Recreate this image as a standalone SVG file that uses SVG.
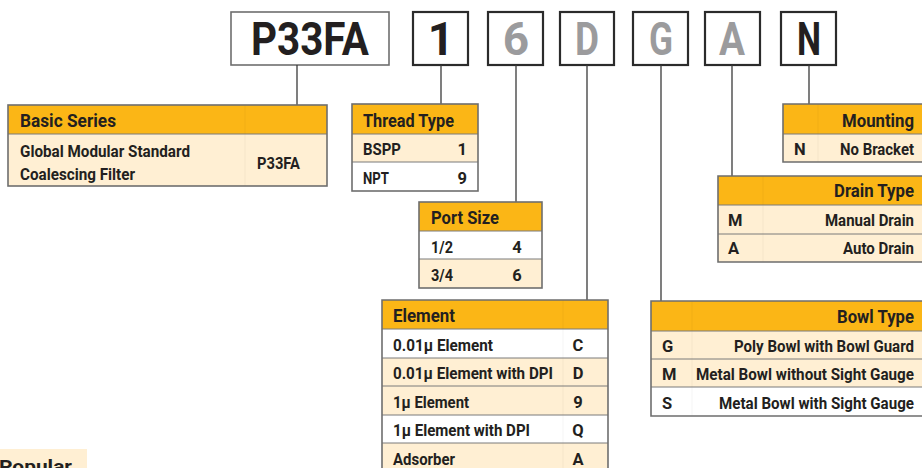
<svg xmlns="http://www.w3.org/2000/svg" width="922" height="468" viewBox="0 0 922 468">
<style>
text{font-family:Roboto,"Liberation Sans",sans-serif;font-weight:bold;fill:#231f20}
.code{font-size:46px;text-anchor:middle}
.grey{fill:#9b9b9d}
.cbox{fill:#fff;stroke:#2b2b2b;stroke-width:2.2}
.pbox{fill:#fff;stroke:#6e6e6e;stroke-width:1.6}
.hd{fill:#fbb616}
.cr{fill:#ffefd3}
.wh{fill:#fff}
.frame{fill:none;stroke:#6e6e6e;stroke-width:1.6}
.sep{stroke:#7a7a7a;stroke-width:1}
.div{stroke:#000;stroke-opacity:0.04;stroke-width:1}
.h{font-size:17.5px}
.r{font-size:16.5px}
.e{text-anchor:end}
.m{text-anchor:middle}
.conn line{stroke:#3a3a3a;stroke-width:1.3}
</style>

<g id="codes">
<g id="code-P33FA"><rect class="pbox" x="231" y="12" width="158" height="53"/><text class="code" x="310" y="55" textLength="118" lengthAdjust="spacingAndGlyphs">P33FA</text></g>
<g id="code-1"><rect class="cbox" x="413" y="12" width="55" height="53"/><text class="code" x="441" y="55">1</text></g>
<g id="code-6"><rect class="cbox" x="488" y="12" width="55" height="53"/><text class="code grey" x="516" y="55">6</text></g>
<g id="code-D"><rect class="cbox" x="560" y="12" width="54" height="53"/><text class="code grey" x="587" y="55" textLength="24" lengthAdjust="spacingAndGlyphs">D</text></g>
<g id="code-G"><rect class="cbox" x="633" y="12" width="55" height="53"/><text class="code grey" x="661" y="55" textLength="24" lengthAdjust="spacingAndGlyphs">G</text></g>
<g id="code-A"><rect class="cbox" x="705" y="12" width="55" height="53"/><text class="code grey" x="732" y="55" textLength="26" lengthAdjust="spacingAndGlyphs">A</text></g>
<g id="code-N"><rect class="cbox" x="781" y="12" width="55" height="53"/><text class="code" x="809" y="55" textLength="24" lengthAdjust="spacingAndGlyphs">N</text></g>
</g>

<g id="connectors" class="conn">
<line x1="297" y1="65" x2="297" y2="105"/>
<line x1="441" y1="65" x2="441" y2="104"/>
<line x1="516" y1="65" x2="516" y2="202"/>
<line x1="587" y1="65" x2="587" y2="300"/>
<line x1="661" y1="65" x2="661" y2="301"/>
<line x1="732" y1="65" x2="732" y2="176"/>
<line x1="809" y1="65" x2="809" y2="104"/>
</g>

<g id="basic-series">
<rect class="hd" x="8" y="105" width="319" height="29"/>
<rect class="cr" x="8" y="134" width="319" height="52"/>
<line class="div" x1="245" y1="105" x2="245" y2="186"/>
<line class="sep" x1="8" y1="134" x2="327" y2="134"/>
<rect class="frame" x="8" y="105" width="319" height="81"/>
<text class="h" x="20" y="127" textLength="96" lengthAdjust="spacingAndGlyphs">Basic Series</text>
<text class="r" x="20" y="157" textLength="170" lengthAdjust="spacingAndGlyphs">Global Modular Standard</text>
<text class="r" x="20" y="180" textLength="115" lengthAdjust="spacingAndGlyphs">Coalescing Filter</text>
<text class="r" x="257" y="169" textLength="43" lengthAdjust="spacingAndGlyphs">P33FA</text>
</g>

<g id="thread-type">
<rect class="hd" x="352" y="104" width="126" height="30"/>
<rect class="cr" x="352" y="134" width="126" height="28"/>
<rect class="wh" x="352" y="162" width="126" height="29"/>
<line class="sep" x1="352" y1="134" x2="478" y2="134"/>
<line class="sep" x1="352" y1="162" x2="478" y2="162"/>
<rect class="frame" x="352" y="104" width="126" height="87"/>
<text class="h" x="363" y="127" textLength="91" lengthAdjust="spacingAndGlyphs">Thread Type</text>
<text class="r" x="363" y="155" textLength="38" lengthAdjust="spacingAndGlyphs">BSPP</text>
<text class="r e" x="467" y="155">1</text>
<text class="r" x="363" y="184" textLength="26" lengthAdjust="spacingAndGlyphs">NPT</text>
<text class="r e" x="467" y="184">9</text>
</g>

<g id="port-size">
<rect class="hd" x="419" y="202" width="123" height="29"/>
<rect class="wh" x="419" y="231" width="123" height="28"/>
<rect class="cr" x="419" y="259" width="123" height="29"/>
<line class="sep" x1="419" y1="231" x2="542" y2="231"/>
<line class="sep" x1="419" y1="259" x2="542" y2="259"/>
<rect class="frame" x="419" y="202" width="123" height="86"/>
<text class="h" x="431" y="224" textLength="68" lengthAdjust="spacingAndGlyphs">Port Size</text>
<text class="r" x="431" y="253" textLength="22" lengthAdjust="spacingAndGlyphs">1/2</text>
<text class="r m" x="517" y="253">4</text>
<text class="r" x="431" y="281" textLength="22" lengthAdjust="spacingAndGlyphs">3/4</text>
<text class="r m" x="517" y="281">6</text>
</g>

<g id="element">
<rect class="hd" x="382" y="300" width="226" height="29"/>
<rect class="wh" x="382" y="329" width="226" height="29"/>
<rect class="cr" x="382" y="358" width="226" height="28"/>
<rect class="cr" x="382" y="386" width="226" height="29"/>
<rect class="wh" x="382" y="415" width="226" height="28"/>
<rect class="cr" x="382" y="443" width="226" height="25"/>
<line class="div" x1="563" y1="300" x2="563" y2="468"/>
<line class="sep" x1="382" y1="329" x2="608" y2="329"/>
<line class="sep" x1="382" y1="358" x2="608" y2="358"/>
<line class="sep" x1="382" y1="386" x2="608" y2="386"/>
<line class="sep" x1="382" y1="415" x2="608" y2="415"/>
<line class="sep" x1="382" y1="443" x2="608" y2="443"/>
<path class="frame" d="M382 468V300H608V468"/>
<text class="h" x="393" y="322" textLength="62" lengthAdjust="spacingAndGlyphs">Element</text>
<text class="r" x="393" y="351" textLength="100" lengthAdjust="spacingAndGlyphs">0.01µ Element</text>
<text class="r m" x="578" y="351">C</text>
<text class="r" x="393" y="379" textLength="160" lengthAdjust="spacingAndGlyphs">0.01µ Element with DPI</text>
<text class="r m" x="578" y="379">D</text>
<text class="r" x="393" y="408" textLength="76" lengthAdjust="spacingAndGlyphs">1µ Element</text>
<text class="r m" x="578" y="408">9</text>
<text class="r" x="393" y="436" textLength="137" lengthAdjust="spacingAndGlyphs">1µ Element with DPI</text>
<text class="r m" x="578" y="436">Q</text>
<text class="r" x="393" y="465" textLength="62" lengthAdjust="spacingAndGlyphs">Adsorber</text>
<text class="r m" x="578" y="465">A</text>
</g>

<g id="bowl-type">
<rect class="hd" x="651" y="301" width="271" height="30"/>
<rect class="cr" x="651" y="331" width="271" height="28"/>
<rect class="cr" x="651" y="359" width="271" height="28"/>
<rect class="wh" x="651" y="387" width="271" height="29"/>
<line class="div" x1="692" y1="301" x2="692" y2="416"/>
<line class="sep" x1="651" y1="331" x2="922" y2="331"/>
<line class="sep" x1="651" y1="359" x2="922" y2="359"/>
<line class="sep" x1="651" y1="387" x2="922" y2="387"/>
<path class="frame" d="M922 301H651V416H922"/>
<text class="h" x="837" y="323" textLength="77" lengthAdjust="spacingAndGlyphs">Bowl Type</text>
<text class="r" x="662" y="352">G</text>
<text class="r" x="734" y="352" textLength="180" lengthAdjust="spacingAndGlyphs">Poly Bowl with Bowl Guard</text>
<text class="r" x="662" y="380">M</text>
<text class="r" x="696" y="380" textLength="218" lengthAdjust="spacingAndGlyphs">Metal Bowl without Sight Gauge</text>
<text class="r" x="662" y="409">S</text>
<text class="r" x="719" y="409" textLength="195" lengthAdjust="spacingAndGlyphs">Metal Bowl with Sight Gauge</text>
</g>

<g id="mounting">
<rect class="hd" x="783" y="104" width="139" height="30"/>
<rect class="cr" x="783" y="134" width="139" height="28"/>
<line class="div" x1="818" y1="104" x2="818" y2="162"/>
<line class="sep" x1="783" y1="134" x2="922" y2="134"/>
<path class="frame" d="M922 104H783V162H922"/>
<text class="h" x="842" y="127" textLength="72" lengthAdjust="spacingAndGlyphs">Mounting</text>
<text class="r" x="794" y="155">N</text>
<text class="r" x="840" y="155" textLength="74" lengthAdjust="spacingAndGlyphs">No Bracket</text>
</g>

<g id="drain-type">
<rect class="hd" x="718" y="176" width="204" height="29"/>
<rect class="cr" x="718" y="205" width="204" height="29"/>
<rect class="cr" x="718" y="234" width="204" height="28"/>
<line class="div" x1="763" y1="176" x2="763" y2="262"/>
<line class="sep" x1="718" y1="205" x2="922" y2="205"/>
<line class="sep" x1="718" y1="234" x2="922" y2="234"/>
<path class="frame" d="M922 176H718V262H922"/>
<text class="h" x="834" y="197" textLength="80" lengthAdjust="spacingAndGlyphs">Drain Type</text>
<text class="r" x="728" y="226">M</text>
<text class="r" x="825" y="226" textLength="89" lengthAdjust="spacingAndGlyphs">Manual Drain</text>
<text class="r" x="728" y="254">A</text>
<text class="r" x="843" y="254" textLength="71" lengthAdjust="spacingAndGlyphs">Auto Drain</text>
</g>

<g id="popular">
<rect class="cr" x="0" y="449" width="87" height="19"/>
<text x="-1" y="473" font-size="18" textLength="73" lengthAdjust="spacingAndGlyphs">Popular</text>
</g>
</svg>
